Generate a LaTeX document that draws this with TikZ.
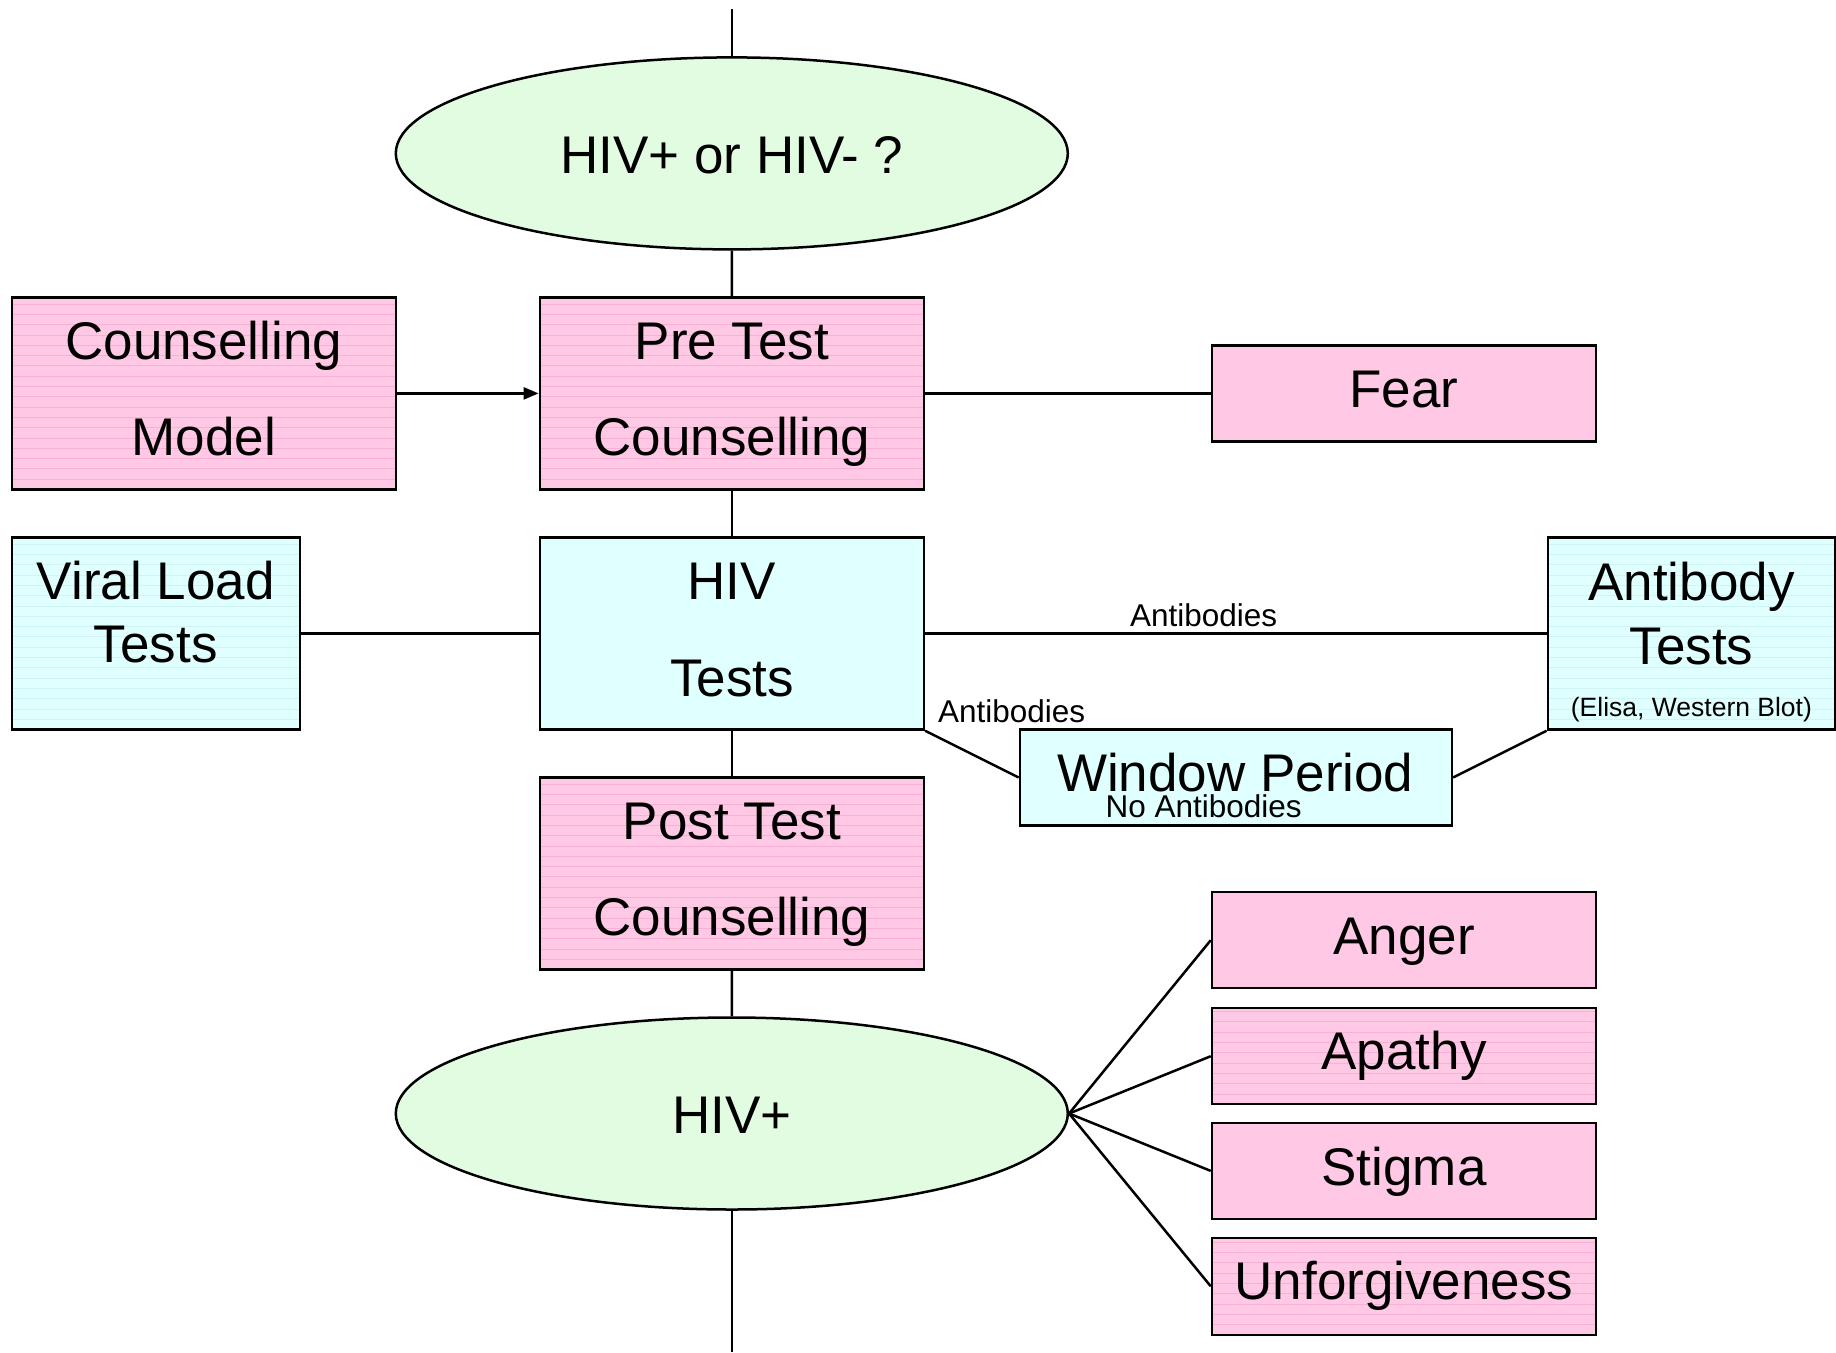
\documentclass[tikz,border=0pt]{standalone}
\usepackage{fontspec}
\setmainfont{Liberation Sans}
\usetikzlibrary{shapes.geometric,arrows.meta}
\definecolor{pinkfill}{HTML}{FFC8E4}
\definecolor{pinkstripe}{HTML}{F7B0D6}
\definecolor{cyanfill}{HTML}{E0FFFF}
\definecolor{cyanstripe}{HTML}{D0F4F4}
\definecolor{greenfill}{HTML}{E2FCE2}
\tikzset{
  conn/.style={draw=black, line width=2.5pt},
  boxbase/.style={rectangle, draw=black, line width=2.5pt, inner sep=0pt},
  pinkbox/.style={boxbase, fill=pinkfill},
  cyanbox/.style={boxbase, fill=cyanfill},
  greenell/.style={ellipse, draw=black, line width=2.5pt, fill=greenfill, inner sep=0pt, minimum width=672pt, minimum height=192pt},
  stripes/.style={path picture={
     \foreach \k in {1,...,19}{
       \draw[#1, line width=0.7pt]
         ([yshift=\k*10.3pt]path picture bounding box.south west) --
         ([yshift=\k*10.3pt]path picture bounding box.south east);}}},
  big/.style={font=\fontsize{53}{63}\selectfont, anchor=base, inner sep=0pt},
  small/.style={font=\fontsize{31.5}{37}\selectfont, anchor=base, inner sep=0pt},
  tiny/.style={font=\fontsize{26.5}{32}\selectfont, anchor=base, inner sep=0pt},
}
\begin{document}
\begin{tikzpicture}[x=1pt,y=-1pt]
\useasboundingbox (0,0) rectangle (1836,1352);

% shapes
\node[greenell] (e1) at (731.8,153.4) {};
\node[pinkbox, stripes=pinkstripe, minimum width=384pt, minimum height=192pt] (cm) at (203.75,393.4) {};
\node[pinkbox, stripes=pinkstripe, minimum width=384pt, minimum height=192pt] (pre) at (731.85,393.4) {};
\node[pinkbox, minimum width=384pt, minimum height=96pt] (fear) at (1404,393.4) {};
\node[cyanbox, stripes=cyanstripe, minimum width=288pt, minimum height=192pt] (vl) at (155.75,633.5) {};
\node[cyanbox, minimum width=384pt, minimum height=192pt] (hiv) at (731.85,633.5) {};
\node[cyanbox, stripes=cyanstripe, minimum width=287pt, minimum height=192pt] (ab) at (1691.4,633.5) {};
\node[cyanbox, minimum width=432pt, minimum height=96pt] (wp) at (1235.9,777.5) {};
\node[pinkbox, stripes=pinkstripe, minimum width=384pt, minimum height=192pt] (post) at (731.85,873.5) {};
\node[greenell] (e2) at (731.8,1113.5) {};
\node[pinkbox, minimum width=384pt, minimum height=96pt] (anger) at (1404,940.2) {};
\node[pinkbox, stripes=pinkstripe, minimum width=384pt, minimum height=96pt] (apathy) at (1404,1056.2) {};
\node[pinkbox, minimum width=384pt, minimum height=96pt] (stigma) at (1404,1170.9) {};
\node[pinkbox, stripes=pinkstripe, minimum width=384pt, minimum height=97pt] (unf) at (1404,1286.3) {};

\coordinate (top) at (731.8,9.4);
\coordinate (bot) at (731.8,1352);

% connectors
\draw[conn] (top) -- (e1.north);
\draw[conn] (e1.south) -- (pre.north);
\draw[conn, -{Triangle[length=15pt,width=12pt]}] (cm.east) -- (pre.west);
\draw[conn] (pre.east) -- (fear.west);
\draw[conn] (pre.south) -- (hiv.north);
\draw[conn] (vl.east) -- (hiv.west);
\draw[conn] (hiv.east) -- (ab.west);
\draw[conn] (hiv.south east) -- (wp.west);
\draw[conn] (wp.east) -- (ab.south west);
\draw[conn] (hiv.south) -- (post.north);
\draw[conn] (post.south) -- (e2.north);
\draw[conn] (e2.east) -- (anger.west);
\draw[conn] (e2.east) -- (apathy.west);
\draw[conn] (e2.east) -- (stigma.west);
\draw[conn] (e2.east) -- (unf.west);
\draw[conn] (e2.south) -- (bot);

% texts
\node[big] (t1) at (731.8,173.3) {HIV+ or HIV- ?};
\node[big] (t2) at (203.75,359.5) {Counselling};
\node[big] (t3) at (203.75,455.5) {Model};
\node[big] (t4) at (731.85,359.5) {Pre Test};
\node[big] (t5) at (731.85,455.5) {Counselling};
\node[big] (t6) at (1404,407.5) {Fear};
\node[big] (t7) at (155.75,599.5) {Viral Load};
\node[big] (t8) at (155.75,662.7) {Tests};
\node[big] (t9) at (731.85,599.5) {HIV};
\node[big] (t10) at (731.85,696.7) {Tests};
\node[big] (t11) at (1691.4,600.7) {Antibody};
\node[big] (t12) at (1691.4,664) {Tests};
\node[tiny] (t13) at (1691.4,716.6) {(Elisa, Western Blot)};
\node[small] (t14) at (1203.7,626.5) {Antibodies};
\node[small] (t15) at (1011.7,722.5) {Antibodies};
\node[big] (t16) at (1235.3,791.5) {Window Period};
\node[small] (t17) at (1203.7,817.3) {No Antibodies};
\node[big] (t18) at (731.85,839.5) {Post Test};
\node[big] (t19) at (731.85,935.6) {Counselling};
\node[big] (t20) at (731.8,1133.4) {HIV+};
\node[big] (t21) at (1404,954.3) {Anger};
\node[big] (t22) at (1404,1069) {Apathy};
\node[big] (t23) at (1404,1185) {Stigma};
\node[big] (t24) at (1404,1299.7) {Unforgiveness};
\end{tikzpicture}
\end{document}
